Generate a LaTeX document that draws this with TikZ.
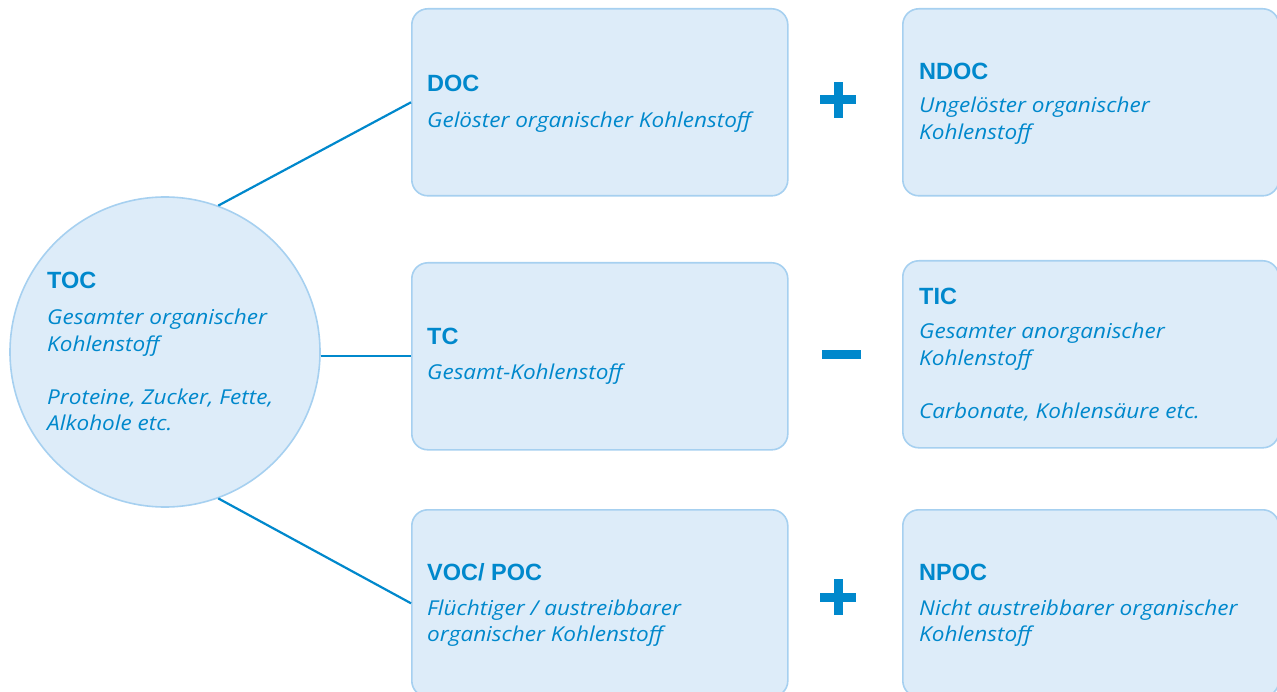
\documentclass[tikz,border=0pt]{standalone}
\usepackage{fontspec}
\setmainfont{Liberation Sans}
\newfontfamily\headfont{Liberation Sans}
\newfontfamily\bodyfont{Open Sans}[FakeStretch=1.10]
\usetikzlibrary{positioning}
\definecolor{tocblue}{RGB}{0,136,204}
\definecolor{boxfill}{RGB}{221,236,249}
\definecolor{boxline}{RGB}{166,208,240}
% stacked lines whose baseline is the baseline of the first line
\newcommand\firstbase[1]{\vtop{\baselineskip=26.5pt #1}}
\newcommand\txtline[1]{\hbox{#1}}
\newcommand\txtgap{\vskip 26.5pt}
\tikzset{
  cbox/.style={draw=boxline, line width=1.6pt, fill=boxfill, rounded corners=16pt,
    minimum width=376pt, minimum height=187pt, inner sep=0pt, anchor=north west},
  cdisc/.style={circle, draw=boxline, line width=1.6pt, fill=boxfill,
    minimum size=310pt, inner sep=0pt},
  head/.style={anchor=base west, inner sep=0pt, text=tocblue,
    font=\headfont\bfseries\fontsize{23.5}{27}\selectfont},
  body/.style={anchor=base west, inner sep=0pt, text=tocblue,
    font=\bodyfont\itshape\fontsize{20.5}{26.5}\selectfont},
  link/.style={draw=tocblue, line width=2.2pt},
  sign/.style={fill=tocblue}
}
\begin{document}
\begin{tikzpicture}[x=1pt,y=-1pt]
  \useasboundingbox (0,0) rectangle (1277,692);
  \clip (0,0) rectangle (1277,692);

  % boxes
  \node[cbox] (doc)  at (411,8)   {};
  \node[cbox] (ndoc) at (902,8)   {};
  \node[cbox] (tc)   at (411,262) {};
  \node[cbox] (tic)  at (902,260) {};
  \node[cbox] (voc)  at (411,509) {};
  \node[cbox] (npoc) at (902,509) {};

  % central circle
  \node[cdisc] (toc) at (165,352) {};

  % connectors
  \draw[link] (toc.70) -- (doc.west);
  \draw[link] (tc.west -| toc.east) -- (tc.west);
  \draw[link] (toc.-70) -- (voc.west);

  % operators
  \fill[sign] (820,95.5) rectangle (856,104.5);
  \fill[sign] (833.5,82) rectangle (842.5,118);
  \fill[sign] (822,350) rectangle (861,359);
  \fill[sign] (820,592.5) rectangle (856,601.5);
  \fill[sign] (833.5,579) rectangle (842.5,615);

  % texts
  \node[head] (toch) at (47,289) {TOC};
  \node[body] (tocb) at (47,325) {\firstbase{\txtline{Gesamter organischer}\txtline{Kohlenstoff}\txtgap
    \txtline{Proteine, Zucker, Fette,}\txtline{Alkohole etc.}}};

  \node[head] (doch) at (427,92) {DOC};
  \node[body] (docb) at (427,128) {Gelöster organischer Kohlenstoff};

  \node[head] (ndoch) at (919,80) {NDOC};
  \node[body] (ndocb) at (919,113) {\firstbase{\txtline{Ungelöster organischer}\txtline{Kohlenstoff}}};

  \node[head] (tch) at (427,345) {TC};
  \node[body] (tcb) at (427,380) {Gesamt-Kohlenstoff};

  \node[head] (tich) at (919,305) {TIC};
  \node[body] (ticb) at (919,339) {\firstbase{\txtline{Gesamter anorganischer}\txtline{Kohlenstoff}\txtgap
    \txtline{Carbonate, Kohlensäure etc.}}};

  \node[head] (voch) at (427,580) {VOC/ POC};
  \node[body] (vocb) at (427,615) {\firstbase{\txtline{Flüchtiger / austreibbarer}\txtline{organischer Kohlenstoff}}};

  \node[head] (npoch) at (919,580) {NPOC};
  \node[body] (npocb) at (919,615) {\firstbase{\txtline{Nicht austreibbarer organischer}\txtline{Kohlenstoff}}};
\end{tikzpicture}
\end{document}
